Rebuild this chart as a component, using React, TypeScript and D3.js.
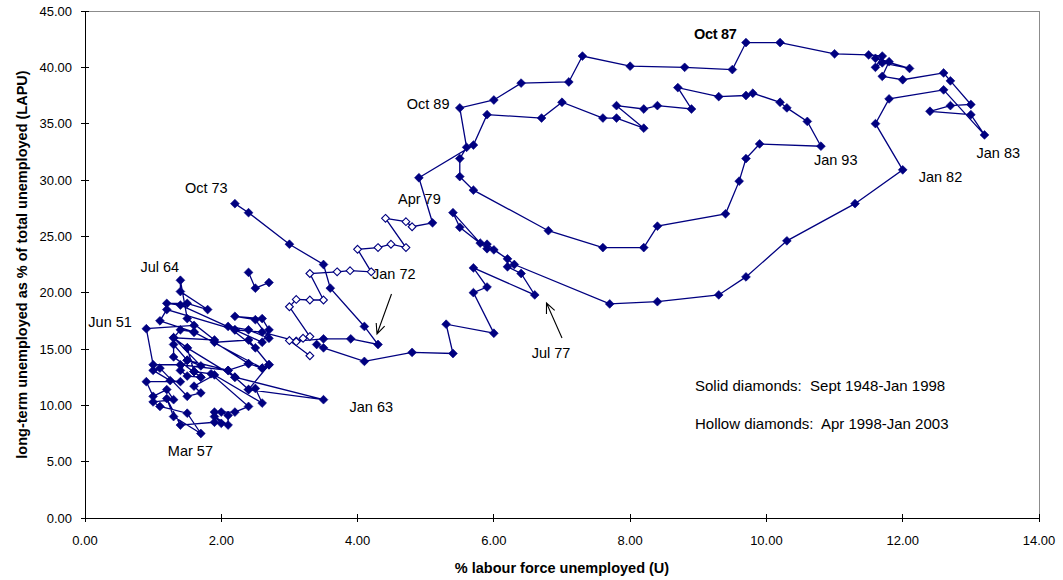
import * as d3 from 'd3';
import React from 'react';

// quarterly observations: [u, lapu]
// u = % labour force unemployed, lapu = long-term unemployed as % of total
const path1948to1973: [number, number][] = [
  [1.5, 15.1], [1.6, 13.0], [1.7, 12.5], [1.3, 14.3], [1.3, 15.4], [1.5, 14.0],
  [1.7, 13.5], [1.3, 16.0], [1.4, 16.7], [1.6, 16.5], [1.6, 17.1], [0.9, 16.8],
  [1.0, 13.6], [1.4, 13.6], [2.1, 13.1], [2.2, 12.5], [2.4, 11.4], [2.5, 11.5],
  [2.6, 10.2], [1.9, 12.7], [1.6, 11.7], [1.7, 11.1], [1.5, 10.8], [1.1, 13.3],
  [1.0, 13.1], [1.25, 12.2], [1.4, 12.1], [0.9, 12.1], [1.0, 10.8], [1.2, 11.4],
  [1.3, 10.5], [1.0, 10.3], [1.1, 9.9], [1.5, 9.3], [1.7, 7.5], [1.3, 9.0],
  [1.2, 10.6], [1.4, 8.25], [1.9, 8.5], [2.0, 8.4], [1.9, 9.0], [2.1, 8.25],
  [2.1, 9.1], [2.0, 9.4], [1.9, 9.4], [2.2, 9.4], [2.4, 9.9], [1.85, 12.8],
  [1.6, 13.0], [1.7, 12.5], [1.5, 12.6], [1.4, 13.1], [1.5, 14.0], [2.1, 13.1],
  [2.4, 13.7], [2.6, 13.3], [2.7, 13.6], [2.4, 11.4], [3.5, 10.5], [2.2, 12.5],
  [1.5, 15.1], [1.3, 16.0], [1.9, 15.8], [1.5, 17.7], [1.4, 21.1], [1.4, 20.1],
  [1.8, 18.5], [1.5, 19.05], [1.2, 19.05], [1.4, 18.9], [2.2, 16.7], [1.2, 18.5],
  [1.1, 17.5], [1.6, 16.5], [2.6, 13.3], [2.4, 13.7], [1.9, 15.6], [2.4, 15.8],
  [2.7, 13.6], [2.5, 15.1], [2.1, 17.0], [2.4, 16.7], [2.7, 15.95], [2.5, 17.6],
  [2.2, 17.9], [2.6, 17.7], [2.7, 16.7], [2.6, 15.6], [2.2, 16.7], [2.6, 16.5],
  [3.1, 15.7], [3.5, 15.9], [3.9, 15.9], [4.3, 15.4], [4.1, 17.0], [3.6, 20.4],
  [3.5, 22.5], [3.0, 24.3], [2.4, 27.1], [2.2, 27.9]
];

const path1974: [number, number][] = [
  [2.4, 21.8], [2.5, 20.4], [2.7, 20.9]
];

const path1975to1998: [number, number][] = [
  [3.4, 15.4], [3.5, 15.1], [4.1, 13.9], [4.8, 14.7], [5.4, 14.6], [5.3, 17.2],
  [6.0, 16.4], [5.7, 20.0], [5.9, 20.5], [5.7, 22.2], [6.6, 19.8], [6.4, 21.7],
  [6.2, 22.3], [6.2, 23.0], [6.0, 23.8], [5.9, 23.9], [5.5, 25.8], [5.4, 27.1],
  [5.8, 24.4], [5.9, 24.3], [6.3, 22.5], [7.7, 19.0], [8.4, 19.2], [9.3, 19.8],
  [9.7, 21.4], [10.3, 24.6], [11.3, 27.9], [12.0, 30.9], [11.6, 35.0], [11.8, 37.2],
  [12.6, 38.0], [13.2, 34.0], [13.0, 35.8], [12.4, 36.1], [12.7, 36.6], [13.0, 36.7],
  [12.7, 38.8], [12.6, 39.5], [12.0, 38.9], [11.7, 39.2], [11.8, 40.5], [11.6, 40.8],
  [12.1, 39.9], [11.7, 40.4], [11.6, 40.0], [11.7, 41.0], [11.5, 41.1], [11.0, 41.2],
  [10.2, 42.2], [9.7, 42.2], [9.5, 39.8], [8.8, 40.0], [8.0, 40.1], [7.3, 41.0],
  [7.1, 38.7], [6.4, 38.6], [6.0, 37.1], [5.5, 36.4], [5.6, 32.9], [5.5, 31.9],
  [5.5, 30.3], [5.7, 29.1], [6.8, 25.5], [7.6, 24.0], [8.2, 24.0], [8.4, 25.9],
  [9.4, 27.0], [9.6, 29.9], [9.7, 31.9], [9.9, 33.2], [10.8, 33.0], [10.6, 35.2],
  [10.3, 36.4], [10.2, 36.9], [9.8, 37.7], [9.7, 37.5], [9.3, 37.4], [8.7, 38.2],
  [8.9, 36.3], [8.4, 36.6], [8.2, 36.3], [7.8, 36.6], [8.2, 34.6], [7.8, 35.5],
  [7.6, 35.5], [7.0, 36.9], [6.7, 35.5], [5.9, 35.8], [5.7, 33.1], [4.9, 30.2],
  [5.1, 26.2]
];

// Apr 1998 - Jan 2003 (hollow)
const path1998to2003: [number, number][] = [
  [4.8, 25.85], [4.71, 26.3], [4.41, 26.6], [4.71, 24.0], [4.49, 24.3], [4.3, 24.0],
  [4.0, 23.85], [4.2, 21.85], [3.89, 21.95], [3.7, 21.85], [3.3, 21.7], [3.5, 19.35],
  [3.3, 19.35], [3.1, 19.4], [3.0, 18.75], [3.3, 16.1], [3.2, 15.95], [3.1, 15.65],
  [3.0, 15.75], [3.3, 14.4]
];

const xTicks = [0, 2, 4, 6, 8, 10, 12, 14];
const yTicks = [0, 5, 10, 15, 20, 25, 30, 35, 40, 45];

const pointLabels = [
  { text: 'Oct 87', u: 9.7, lapu: 42.2 },
  { text: 'Oct 89', u: 5.5, lapu: 36.4 },
  { text: 'Jan 93', u: 10.8, lapu: 33.0 },
  { text: 'Jan 82', u: 12.0, lapu: 30.9 },
  { text: 'Jan 83', u: 13.2, lapu: 34.0 },
  { text: 'Apr 79', u: 5.4, lapu: 27.1 },
  { text: 'Oct 73', u: 2.2, lapu: 27.9 },
  { text: 'Jan 72', u: 4.3, lapu: 15.4 },
  { text: 'Jul 64', u: 1.4, lapu: 21.1 },
  { text: 'Jun 51', u: 0.9, lapu: 16.8 },
  { text: 'Jul 77', u: 6.6, lapu: 19.8 },
  { text: 'Jan 63', u: 3.5, lapu: 10.5 },
  { text: 'Mar 57', u: 1.7, lapu: 7.5 }
];

const legendLines = ['Solid diamonds:  Sept 1948-Jan 1998', 'Hollow diamonds:  Apr 1998-Jan 2003'];

// label placement relative to its point, in pixels
const labelOffset: Record<string, [number, number]> = {
  'Oct 87': [-52, -4],
  'Oct 89': [-53, 1],
  'Jan 93': [-7, 19],
  'Jan 82': [16, 12],
  'Jan 83': [-8, 23],
  'Apr 79': [-55, -9],
  'Oct 73': [-50, -11],
  'Jan 72': [-6, -65],
  'Jul 64': [-40, -8],
  'Jun 51': [-58, -2],
  'Jul 77': [-3, 63],
  'Jan 63': [26, 12],
  'Mar 57': [-33, 22]
};

const NAVY = '#000080';
const FONT = "'Liberation Sans', Arial, Helvetica, sans-serif";

const diamond = (r: number) => `M0,${-r}L${r},0L0,${r}L${-r},0Z`;

const arrowPath = (x1: number, y1: number, x2: number, y2: number) => {
  const a = Math.atan2(y2 - y1, x2 - x1);
  const len = 11;
  const spread = 0.42;
  const p1 = [x2 - len * Math.cos(a - spread), y2 - len * Math.sin(a - spread)];
  const p2 = [x2 - len * Math.cos(a + spread), y2 - len * Math.sin(a + spread)];
  return `M${x1},${y1}L${x2},${y2}M${p1[0]},${p1[1]}L${x2},${y2}L${p2[0]},${p2[1]}`;
};

export default function App() {
  const width = 1063;
  const height = 580;
  const x = d3.scaleLinear().domain([0, 14]).range([85, 1039]);
  const y = d3.scaleLinear().domain([0, 45]).range([518, 11]);
  const fmt = d3.format('.2f');
  const line = d3
    .line<[number, number]>()
    .x((d) => x(d[0]))
    .y((d) => y(d[1]));

  const solidSegments = [path1948to1973, path1974, path1975to1998];
  const lastSolid = path1975to1998[path1975to1998.length - 1];
  const hollowLine = [lastSolid, ...path1998to2003];

  return (
    <svg
      width={width}
      height={height}
      style={{ position: 'absolute', left: 0, top: 0, background: '#fff' }}
      fontFamily={FONT}
    >
      <rect width={width} height={height} fill="#fff" />

      {/* plot frame */}
      <g shapeRendering="crispEdges">
        <line x1={85} x2={1039} y1={11} y2={11} stroke="#8c8c8c" />
        <line x1={1039} x2={1039} y1={11} y2={518} stroke="#8c8c8c" />
        <line x1={85} x2={85} y1={11} y2={518} stroke="#000" />
        <line x1={85} x2={1039} y1={518} y2={518} stroke="#000" />
        {yTicks.map((t) => (
          <line key={`yt${t}`} x1={81} x2={89} y1={y(t)} y2={y(t)} stroke="#000" />
        ))}
        {xTicks.map((t) => (
          <line key={`xt${t}`} x1={x(t)} x2={x(t)} y1={514} y2={522} stroke="#000" />
        ))}
      </g>

      {yTicks.map((t) => (
        <text
          key={`yl${t}`}
          x={72}
          y={y(t)}
          dy="0.35em"
          textAnchor="end"
          fontSize={13}
          fill="#000"
        >
          {fmt(t)}
        </text>
      ))}
      {xTicks.map((t) => (
        <text key={`xl${t}`} x={x(t)} y={545} textAnchor="middle" fontSize={13} fill="#000">
          {fmt(t)}
        </text>
      ))}

      <text x={562} y={573} textAnchor="middle" fontSize={14.5} fontWeight="bold" fill="#000">
        % labour force unemployed (U)
      </text>
      <text
        transform={`translate(27,${(11 + 518) / 2}) rotate(-90)`}
        textAnchor="middle"
        fontSize={14.5}
        fontWeight="bold"
        fill="#000"
      >
        long-term unemployed as % of total unemployed (LAPU)
      </text>

      {/* series lines */}
      {solidSegments.map((seg, i) => (
        <path key={`s${i}`} d={line(seg) ?? ''} fill="none" stroke={NAVY} strokeWidth={1.3} />
      ))}
      <path d={line(hollowLine) ?? ''} fill="none" stroke={NAVY} strokeWidth={1.3} />

      {/* markers */}
      {solidSegments.flat().map((d, i) => (
        <path
          key={`m${i}`}
          d={diamond(4.4)}
          transform={`translate(${x(d[0])},${y(d[1])})`}
          fill={NAVY}
          stroke={NAVY}
          strokeWidth={0.6}
        />
      ))}
      {path1998to2003.map((d, i) => (
        <path
          key={`h${i}`}
          d={diamond(3.9)}
          transform={`translate(${x(d[0])},${y(d[1])})`}
          fill="#fff"
          stroke={NAVY}
          strokeWidth={1.1}
        />
      ))}

      {/* annotations */}
      {pointLabels.map((l) => {
        const [dx, dy] = labelOffset[l.text];
        return (
          <text
            key={l.text}
            x={x(l.u) + dx}
            y={y(l.lapu) + dy}
            fontSize={14.5}
            fontWeight={l.text === 'Oct 87' ? 'bold' : 'normal'}
            letterSpacing={l.text === 'Oct 87' ? -0.3 : 0}
            fill="#000"
          >
            {l.text}
          </text>
        );
      })}
      <path d={arrowPath(391.5, 294, 377, 334)} fill="none" stroke="#000" strokeWidth={1.1} />
      <path d={arrowPath(562, 338, 546.5, 303)} fill="none" stroke="#000" strokeWidth={1.1} />

      {legendLines.map((t, i) => (
        <text
          key={t}
          x={695}
          y={391 + i * 38}
          fontSize={15}
          fill="#000"
          xmlSpace="preserve"
          style={{ whiteSpace: 'pre' }}
        >
          {t}
        </text>
      ))}
    </svg>
  );
}
